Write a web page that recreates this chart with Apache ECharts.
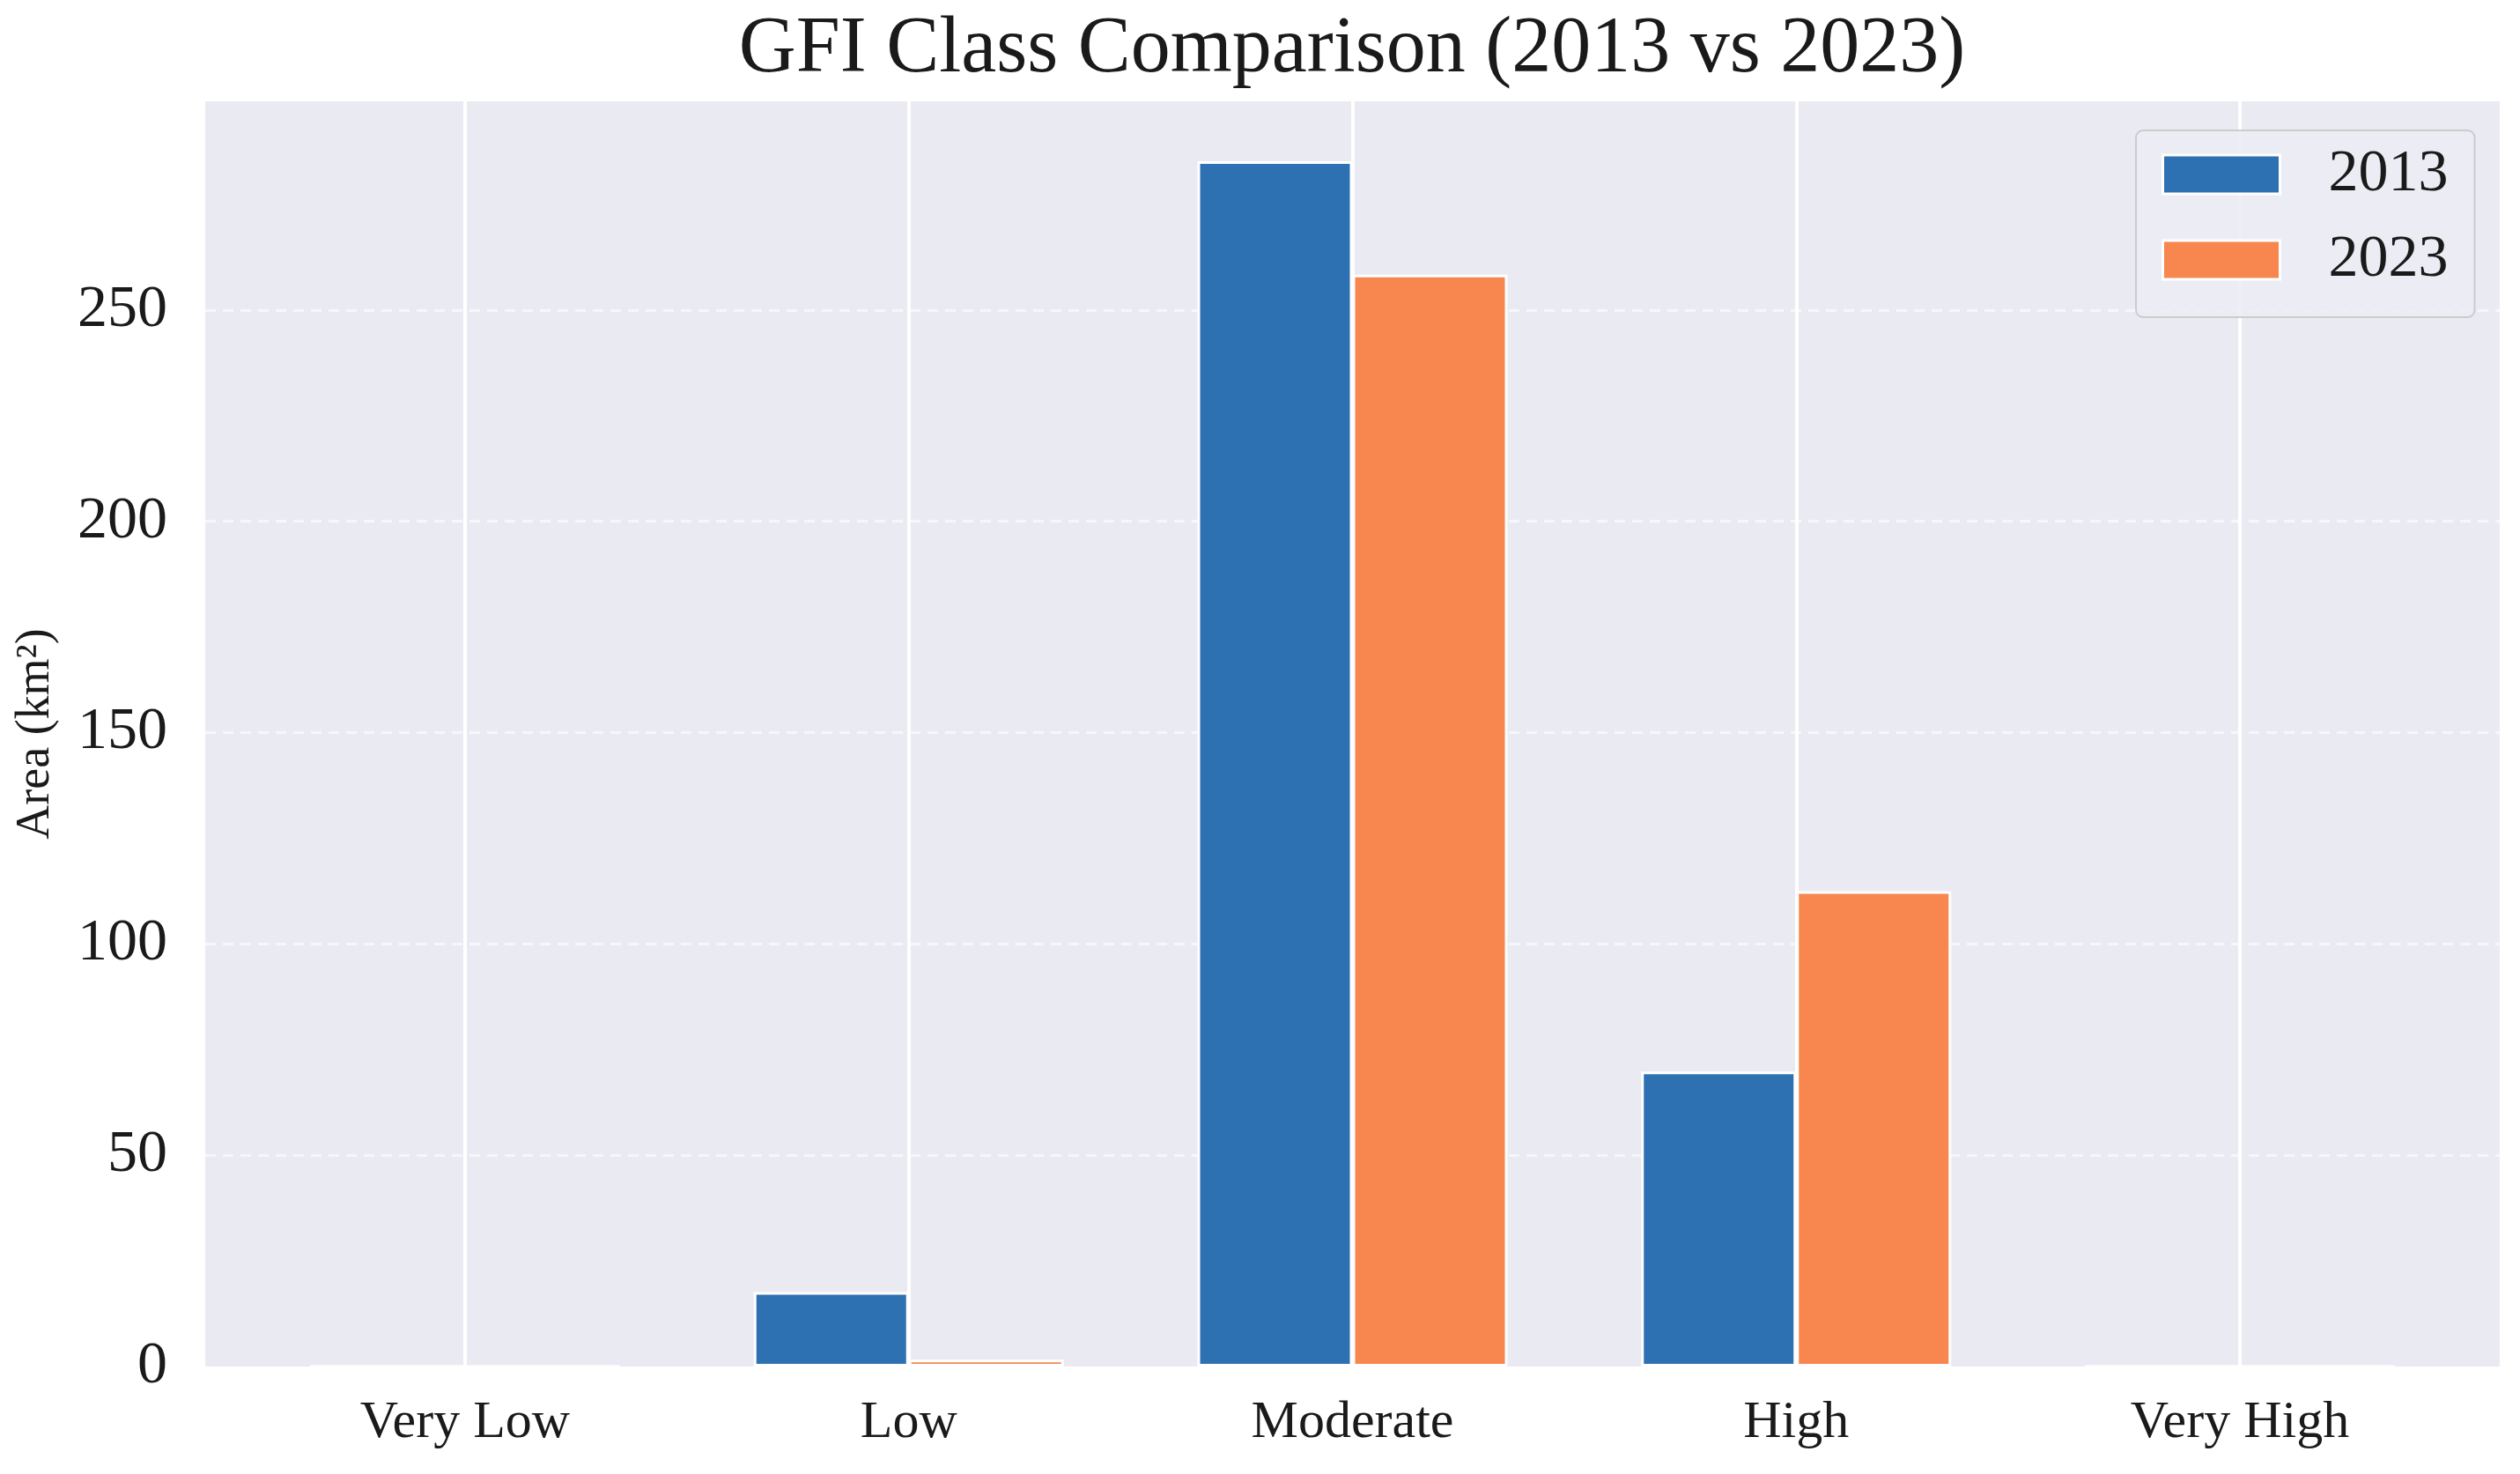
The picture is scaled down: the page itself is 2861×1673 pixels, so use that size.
<!DOCTYPE html>
<html>
<head>
<meta charset="utf-8">
<script src="https://cdn.jsdelivr.net/npm/echarts@6/dist/echarts.min.js"></script>
<style>
html,body{margin:0;padding:0;background:#fff;}
#chart{width:2861px;height:1673px;}
</style>
</head>
<body>
<div id="chart"></div>
<script>
const categories = ['Very Low', 'Low', 'Moderate', 'High', 'Very High'];
const values2013 = [0, 17.6, 285.2, 69.8, 0];
const values2023 = [0, 1.6, 258.4, 112.5, 0];
const seriesNames = ['2013', '2023'];
const yTicks = [0, 50, 100, 150, 200, 250];

const FONT = '"Liberation Serif", "Times New Roman", serif';
const chart = echarts.init(document.getElementById('chart'), null, {renderer: 'canvas'});

const yMax = 299.4;

chart.setOption({
  animation: false,
  backgroundColor: '#ffffff',
  title: {
    text: 'GFI Class Comparison (2013 vs 2023)',
    left: 1535,
    textAlign: 'center',
    top: 12,
    padding: 0,
    textStyle: {fontFamily: FONT, fontSize: 90, fontWeight: 'normal', color: '#1a1a1a', lineHeight: 90}
  },
  legend: {
    data: seriesNames,
    orient: 'vertical',
    left: 2425,
    top: 148,
    padding: [16, 30, 31, 29],
    itemWidth: 133,
    itemHeight: 44,
    itemGap: 29,
    icon: 'rect',
    backgroundColor: 'rgba(236,236,244,0.9)',
    borderColor: '#cccccc',
    borderWidth: 2,
    borderRadius: 8,
    itemStyle: {borderColor: '#ffffff', borderWidth: 3},
    textStyle: {fontFamily: FONT, fontSize: 68, color: '#1a1a1a', lineHeight: 68, padding: [0, 0, 0, 50]}
  },
  grid: [
    {left: 233, right: 23, top: 115, bottom: 122, show: true, backgroundColor: '#EAEAF2', borderWidth: 0},
    {left: 528, right: 318, top: 115, bottom: 122}
  ],
  xAxis: [
    {gridIndex: 0, type: 'value', min: 0, max: 1, show: false},
    {
      gridIndex: 1, type: 'category', data: categories, boundaryGap: false,
      axisLine: {show: false}, axisTick: {show: false},
      axisLabel: {fontFamily: FONT, fontSize: 60, color: '#1a1a1a', margin: 34},
      splitLine: {show: true, lineStyle: {color: '#ffffff', width: 4, type: 'solid'}}
    }
  ],
  yAxis: [
    {
      gridIndex: 0, type: 'value', min: 0, max: yMax, interval: 50,
      axisLine: {show: false}, axisTick: {show: false},
      axisLabel: {
        fontFamily: FONT, fontSize: 68, color: '#1a1a1a', margin: 43,
        formatter: function (v) { return yTicks.indexOf(v) >= 0 ? String(v) : ''; }
      },
      splitLine: {show: true, showMaxLine: false, showMinLine: false,
        lineStyle: {color: 'rgba(255,255,255,0.6)', width: 3, type: [12, 8]}},
      name: 'Area (km²)',
      nameLocation: 'middle',
      nameGap: 165,
      nameRotate: 90,
      nameTextStyle: {fontFamily: FONT, fontSize: 54, color: '#1a1a1a'}
    },
    {gridIndex: 1, type: 'value', min: 0, max: yMax, show: false, splitLine: {show: false}}
  ],
  series: [
    {
      name: seriesNames[0], type: 'bar', xAxisIndex: 1, yAxisIndex: 1,
      data: values2013, barWidth: 176, barGap: '0%',
      itemStyle: {color: '#2E71B2', borderColor: '#ffffff', borderWidth: 3}
    },
    {
      name: seriesNames[1], type: 'bar', xAxisIndex: 1, yAxisIndex: 1,
      data: values2023, barWidth: 176, barGap: '0%',
      itemStyle: {color: '#F7874F', borderColor: '#ffffff', borderWidth: 3}
    }
  ]
});
</script>
</body>
</html>
